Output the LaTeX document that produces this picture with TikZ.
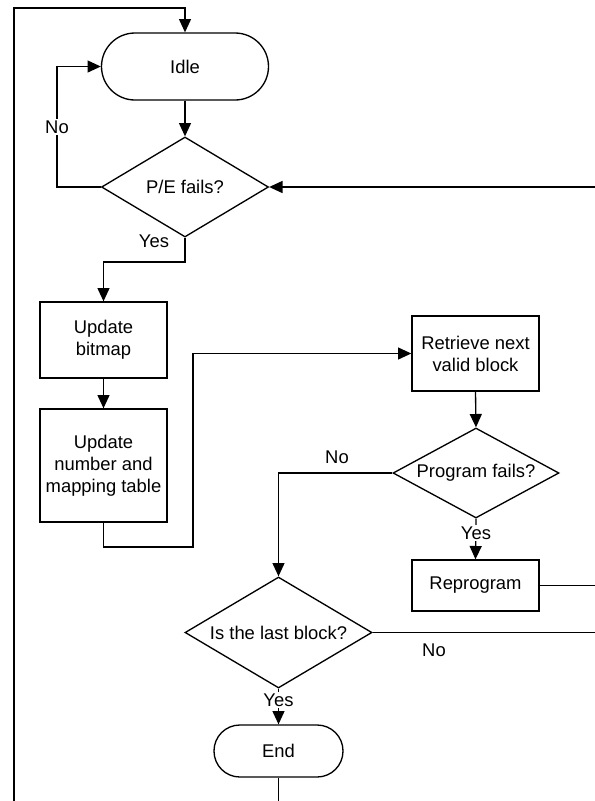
\documentclass[tikz,border=0pt]{standalone}
\usepackage{fontspec}
\setmainfont{Liberation Sans}
\usetikzlibrary{arrows.meta,shapes.geometric}
\begin{document}
\begin{tikzpicture}[x=0.75pt,y=-0.75pt,
  every node/.style={font=\fontsize{13.8}{16.6}\selectfont, inner sep=0pt},
  box/.style={draw, line width=1pt, rectangle, align=center, minimum width=95.25pt},
  term/.style={draw, line width=1pt, rectangle, align=center},
  decision/.style={draw, line width=1pt, diamond, align=center},
  conn/.style={line width=1pt},
  arr/.style={line width=1pt, -{Triangle[length=10pt,width=9pt]}},
  lbl/.style={fill=white, inner sep=1pt}
]
\useasboundingbox (0,0) rectangle (595,801);

% nodes
\node[term, minimum width=125.25pt, minimum height=50.25pt, rounded corners=25.1pt] (idle) at (185,66.5) {Idle};
\node[decision, minimum width=125.25pt, minimum height=75pt, aspect=1.67] (pe) at (185,187) {P/E fails?};
\node[box, minimum height=57pt] (upd1) at (103.5,340) {Update\\bitmap};
\node[box, minimum height=84.75pt] (upd2) at (103.5,465.5) {Update\\number and\\mapping table};
\node[box, minimum height=56.25pt] (retr) at (475.5,353.5) {Retrieve next\\valid block};
\node[decision, minimum width=124.5pt, minimum height=67.5pt, aspect=1.84] (prog) at (476,473) {Program fails?};
\node[box, minimum height=38.25pt] (repr) at (475.5,585.5) {Reprogram};
\node[decision, minimum width=140.25pt, minimum height=83.25pt, aspect=1.68] (last) at (278.5,632.5) {Is the last block?};
\node[term, minimum width=96.75pt, minimum height=39pt, rounded corners=19.4pt] (end) at (278.5,751) {End};

% free ends
\coordinate (lbot) at (14,801);
\coordinate (pein) at (595,187);
\coordinate (reprout) at (595,585.5);
\coordinate (lastout) at (595,632.5);
\coordinate (endout) at (278.5,801);

% connectors
\draw[arr] (lbot) -- (14,8) -- (185,8) -- (idle.north);
\draw[arr] (idle.south) -- (pe.north);
\draw[arr] (pe.west) -- (57,187) -- (57,66.5) -- (idle.west);
\node[lbl] (no1) at (57,127) {No};
\draw[arr] (pein) -- (pe.east);
\draw[arr] (pe.south) -- (185,262) -- (103.5,262) -- (upd1.north);
\node (yes1) at (154,241) {Yes};
\draw[arr] (upd1.south) -- (upd2.north);
\draw[arr] (upd2.south) -- (103.5,547) -- (193,547) -- (193,353.5) -- (retr.west);
\draw[arr] (retr.south) -- (prog.north);
\draw[arr] (prog.west) -- (278.5,473) -- (last.north);
\node (no2) at (337,457) {No};
\draw[arr] (prog.south) -- (repr.north);
\node[lbl] (yes2) at (476,533) {Yes};
\draw[conn] (repr.east) -- (reprout);
\draw[conn] (last.east) -- (lastout);
\node (no3) at (434,650) {No};
\draw[arr] (last.south) -- (end.north);
\node[lbl] (yes3) at (278.5,700) {Yes};
\draw[conn] (end.south) -- (endout);
\end{tikzpicture}
\end{document}
